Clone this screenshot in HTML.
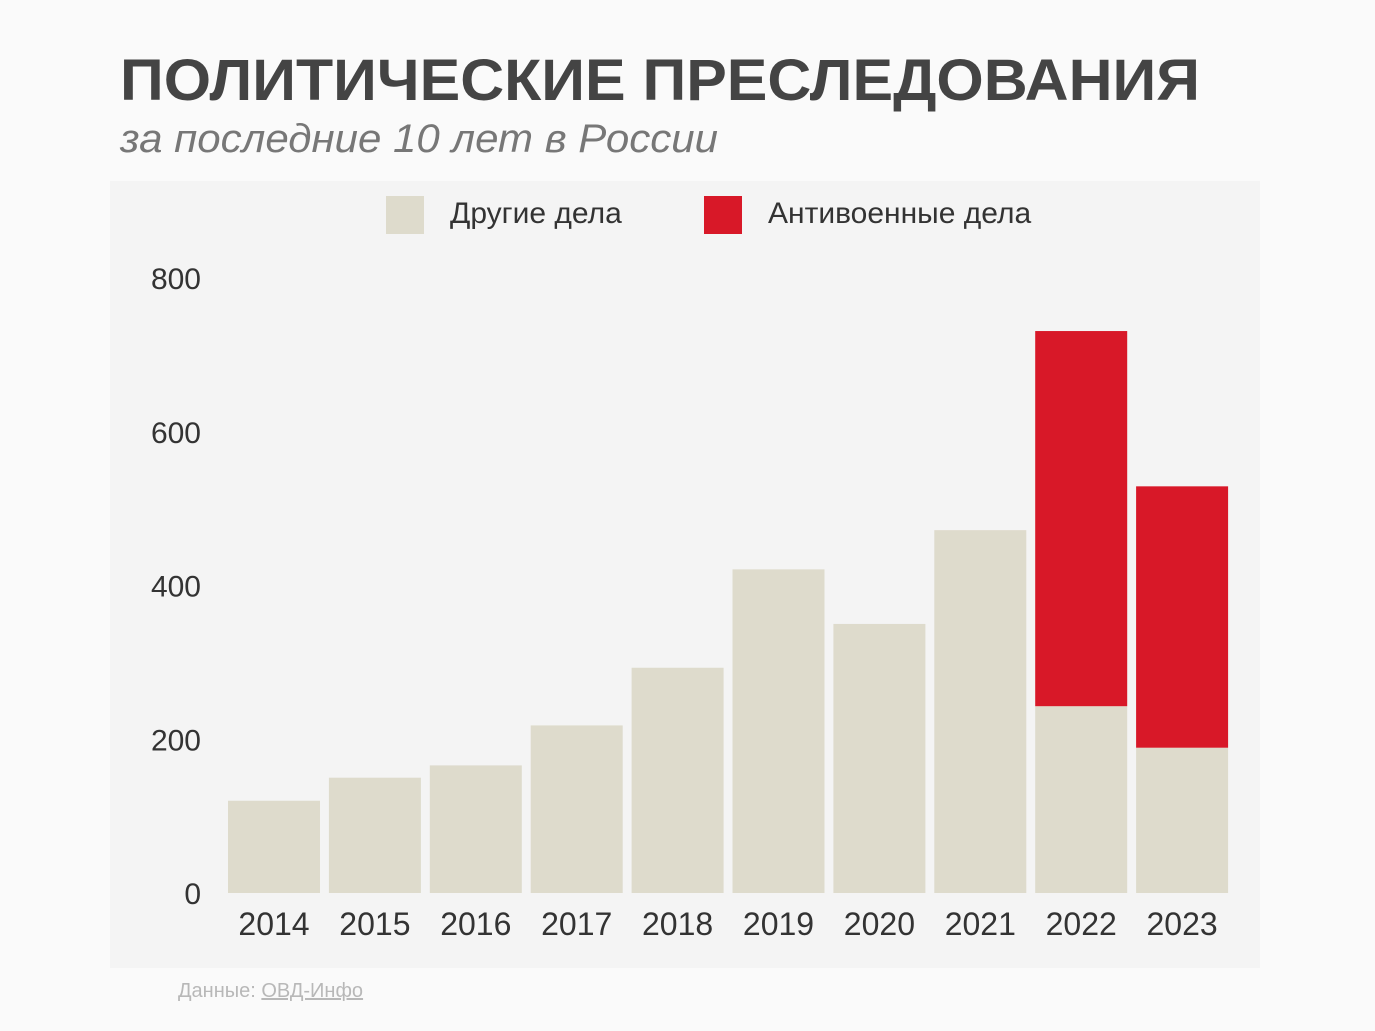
<!DOCTYPE html>
<html><head><meta charset="utf-8"><style>
html,body{margin:0;padding:0;background:#fafafa;}
svg{display:block;font-family:"Liberation Sans","DejaVu Sans",sans-serif;}
</style></head><body>
<svg id="chart" width="1375" height="1031" viewBox="0 0 1375 1031" xmlns="http://www.w3.org/2000/svg">
<rect width="1375" height="1031" fill="#fafafa"/>
<text x="120" y="100" font-size="58" font-weight="bold" fill="#444" textLength="1080" lengthAdjust="spacingAndGlyphs">ПОЛИТИЧЕСКИЕ ПРЕСЛЕДОВАНИЯ</text>
<text x="120" y="152" font-size="40" font-style="italic" fill="#777" textLength="598" lengthAdjust="spacingAndGlyphs">за последние 10 лет в России</text>
<rect x="110" y="181" width="1150" height="787" fill="#f4f4f4"/>
<g>
<rect x="386" y="196" width="38" height="38" fill="#dedbcc"/>
<text x="450" y="223" font-size="30" fill="#333">Другие дела</text>
<rect x="704" y="196" width="38" height="38" fill="#d81828"/>
<text x="768" y="223" font-size="30" fill="#333">Антивоенные дела</text>
</g>
<g id="yaxis"></g>
<g id="bars"></g>
<g id="xaxis"></g>
<text x="178" y="997" font-size="20" fill="#b8b8b8">Данные: <tspan text-decoration="underline">ОВД-Инфо</tspan></text>
</svg>
<script>
const years = ["2014","2015","2016","2017","2018","2019","2020","2021","2022","2023"];
const otherCases = [120,150,166,218,293,421,350,472,243,189];
const antiwarCases = [0,0,0,0,0,0,0,0,488,340];
const yTicks = [0,200,400,600,800];

const NS = "http://www.w3.org/2000/svg";
const y0 = 893, pxPer = 615/800;
function yScale(v){ return y0 - v*pxPer; }
const x0 = 228, pitch = 100.9, bw = 92;
function xScale(i){ return x0 + i*pitch; }
function mk(tag, attrs, parent){ const e=document.createElementNS(NS,tag); for(const k in attrs) e.setAttribute(k,attrs[k]); parent.appendChild(e); return e; }

const ya=document.getElementById('yaxis');
yTicks.forEach(t=>{
  const e=mk('text',{x:201,y:yScale(t)+11,'font-size':30,fill:'#333','text-anchor':'end'},ya);
  
  
  e.textContent=t;
});
const bars=document.getElementById('bars');
const xa=document.getElementById('xaxis');
years.forEach((yr,i)=>{
  const x=xScale(i);
  const o=otherCases[i], a=antiwarCases[i];
  const r1=mk('rect',{x:x,y:yScale(o),width:bw,height:yScale(0)-yScale(o),fill:'#dedbcc'},bars);
  
  
  if(a>0){
    const r2=mk('rect',{x:x,y:yScale(o+a),width:bw,height:yScale(o)-yScale(o+a),fill:'#d81828'},bars);
    
    
  }
  const t=mk('text',{x:x+bw/2,y:935,'font-size':32,fill:'#333','text-anchor':'middle'},xa);
  
  
  t.textContent=yr;
});
</script>
</body></html>
